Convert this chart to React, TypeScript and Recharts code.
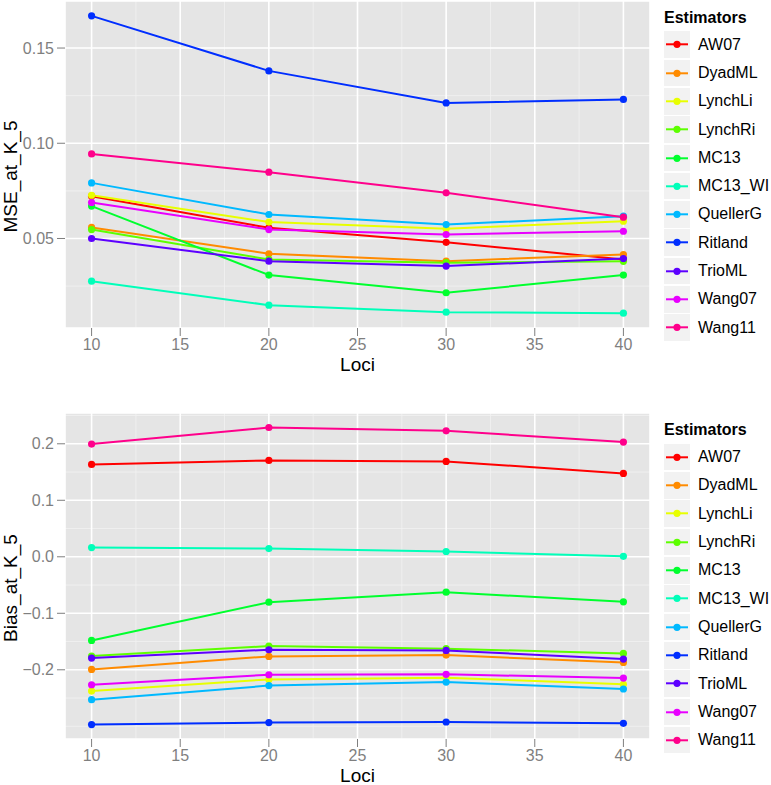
import { LineChart, Line, XAxis, YAxis, CartesianGrid, Label } from "recharts";

const FONT = '"Liberation Sans", Arial, sans-serif';

const loci = [10, 20, 30, 40];
const lociTicks = [10, 15, 20, 25, 30, 35, 40];
const lociMinor = [12.5, 17.5, 22.5, 27.5, 32.5, 37.5];

const estimators = ["AW07", "DyadML", "LynchLi", "LynchRi", "MC13", "MC13_WI", "QuellerG", "Ritland", "TrioML", "Wang07", "Wang11"];
// R rainbow(11)
const colors = ["#FF0000", "#FF8B00", "#E8FF00", "#5DFF00", "#00FF2E", "#00FFB9", "#00B9FF", "#002EFF", "#5D00FF", "#E800FF", "#FF008B"];

// MSE at K_5
const mseAW07 = [0.0722, 0.0556, 0.048, 0.039];
const mseDyadML = [0.0558, 0.042, 0.0381, 0.0416];
const mseLynchLi = [0.0727, 0.0586, 0.0551, 0.0591];
const mseLynchRi = [0.0547, 0.039, 0.0373, 0.038];
const mseMC13 = [0.067, 0.0308, 0.0215, 0.0308];
const mseMC13WI = [0.0276, 0.015, 0.0113, 0.0108];
const mseQuellerG = [0.0792, 0.0626, 0.0573, 0.0617];
const mseRitland = [0.1669, 0.138, 0.1212, 0.123];
const mseTrioML = [0.05, 0.0381, 0.0355, 0.0395];
const mseWang07 = [0.0689, 0.0547, 0.0521, 0.0538];
const mseWang11 = [0.0944, 0.0848, 0.074, 0.0612];
const mseTicks = [0.05, 0.1, 0.15];
const mseMinor = [0.025, 0.075, 0.125];

// Bias at K_5
const biasAW07 = [0.1635, 0.1706, 0.1688, 0.1476];
const biasDyadML = [-0.1993, -0.1763, -0.174, -0.187];
const biasLynchLi = [-0.2376, -0.217, -0.214, -0.2258];
const biasLynchRi = [-0.1757, -0.158, -0.1627, -0.171];
const biasMC13 = [-0.148, -0.0804, -0.0627, -0.0797];
const biasMC13WI = [0.0163, 0.0145, 0.0092, 0.0009];
const biasQuellerG = [-0.2529, -0.228, -0.2217, -0.234];
const biasRitland = [-0.297, -0.2935, -0.2924, -0.2947];
const biasTrioML = [-0.1793, -0.1645, -0.1657, -0.181];
const biasWang07 = [-0.2265, -0.2088, -0.208, -0.2146];
const biasWang11 = [0.1995, 0.2288, 0.223, 0.203];
const biasTicks = [-0.2, -0.1, 0, 0.1, 0.2];
const biasMinor = [-0.3, -0.25, -0.15, -0.05, 0.05, 0.15, 0.25];

const mseSeries = [mseAW07, mseDyadML, mseLynchLi, mseLynchRi, mseMC13, mseMC13WI, mseQuellerG, mseRitland, mseTrioML, mseWang07, mseWang11];
const biasSeries = [biasAW07, biasDyadML, biasLynchLi, biasLynchRi, biasMC13, biasMC13WI, biasQuellerG, biasRitland, biasTrioML, biasWang07, biasWang11];

function buildRows(series: number[][]) {
  return loci.map((l, i) => {
    const row: Record<string, number> = { loci: l };
    estimators.forEach((e, j) => {
      row[e] = series[j][i];
    });
    return row;
  });
}

const tickStyle = { fill: "#7F7F7F", fontSize: 16, fontFamily: FONT };

const yTitle = (text: string) => (props: any) => {
  const vb = props.viewBox;
  const cx = vb.x + 10;
  const cy = vb.y + vb.height / 2 + 12;
  return (
    <text x={cx} y={cy} transform={`rotate(-90 ${cx} ${cy})`} textAnchor="middle" dominantBaseline="central" fontSize={19} fontFamily={FONT} fill="#000">
      {text}
    </text>
  );
};

const xTitle = (props: any) => {
  const vb = props.viewBox;
  return (
    <text x={vb.x + vb.width / 2} y={vb.y + 43} textAnchor="middle" fontSize={19} fontFamily={FONT} fill="#000">
      Loci
    </text>
  );
};

function Panel(props: {
  data: Record<string, number>[];
  height: number;
  top: number;
  xHeight: number;
  domain: [number, number];
  ticks: number[];
  minor: number[];
  title: string;
  fmt: (v: number) => string;
}) {
  return (
    <LineChart width={655} height={props.height} data={props.data} margin={{ top: props.top, right: 5, bottom: 0, left: 0 }}>
      {/* minor grid + panel background */}
      <CartesianGrid fill="#E5E5E5" stroke="#F2F2F2" strokeWidth={0.8} horizontalValues={props.minor} verticalValues={lociMinor} />
      {/* major grid */}
      <CartesianGrid stroke="#FFFFFF" strokeWidth={1.6} />
      <XAxis
        type="number"
        dataKey="loci"
        domain={[8.5, 41.5]}
        ticks={lociTicks}
        interval={0}
        height={props.xHeight}
        axisLine={false}
        tickLine={{ stroke: "#7F7F7F" }}
        tickSize={8}
        tickMargin={3}
        tick={tickStyle}
      >
        <Label content={xTitle} />
      </XAxis>
      <YAxis
        type="number"
        domain={props.domain}
        ticks={props.ticks}
        interval={0}
        width={65}
        allowDataOverflow
        axisLine={false}
        tickLine={{ stroke: "#7F7F7F" }}
        tickSize={8}
        tickMargin={3}
        tick={tickStyle}
        tickFormatter={props.fmt}
      >
        <Label content={yTitle(props.title)} />
      </YAxis>
      {estimators.map((e, i) => (
        <Line
          key={e}
          type="linear"
          dataKey={e}
          stroke={colors[i]}
          strokeWidth={2}
          dot={{ r: 3.6, fill: colors[i], stroke: colors[i], strokeWidth: 0 }}
          isAnimationActive={false}
        />
      ))}
    </LineChart>
  );
}

function EstimatorLegend({ top }: { top: number }) {
  return (
    <div style={{ position: "absolute", left: 664, top, fontFamily: FONT }}>
      <div style={{ fontWeight: "bold", fontSize: 16, height: 26, lineHeight: "26px" }}>Estimators</div>
      {estimators.map((e, i) => (
        <div key={e} style={{ display: "flex", alignItems: "center", height: 28.3 }}>
          <svg width={26} height={26.6} style={{ background: "#F2F2F2", display: "block" }}>
            <line x1={2} x2={24} y1={13.3} y2={13.3} stroke={colors[i]} strokeWidth={2} />
            <circle cx={13} cy={13.3} r={3.6} fill={colors[i]} />
          </svg>
          <span style={{ marginLeft: 8, fontSize: 16, color: "#000", whiteSpace: "nowrap" }}>{e}</span>
        </div>
      ))}
    </div>
  );
}

const fmtMinus = (d: number) => (v: number) => {
  const s = Math.abs(v).toFixed(d);
  return v < 0 ? "\u2212" + s : s;
};

export default function App() {
  return (
    <div style={{ position: "absolute", left: 0, top: 0, width: 771, height: 785, background: "#fff", fontFamily: FONT, overflow: "hidden" }}>
      <div style={{ position: "absolute", left: 0, top: 0 }}>
        <Panel
          data={buildRows(mseSeries)}
          height={378}
          top={1}
          xHeight={50}
          domain={[0.003, 0.1747]}
          ticks={mseTicks}
          minor={mseMinor}
          title="MSE_at_K_5"
          fmt={fmtMinus(2)}
        />
      </div>
      <EstimatorLegend top={4.5} />
      <div style={{ position: "absolute", left: 0, top: 380 }}>
        <Panel
          data={buildRows(biasSeries)}
          height={405}
          top={33}
          xHeight={46}
          domain={[-0.3225, 0.2545]}
          ticks={biasTicks}
          minor={biasMinor}
          title="Bias_at_K_5"
          fmt={fmtMinus(1)}
        />
      </div>
      <EstimatorLegend top={417} />
    </div>
  );
}
